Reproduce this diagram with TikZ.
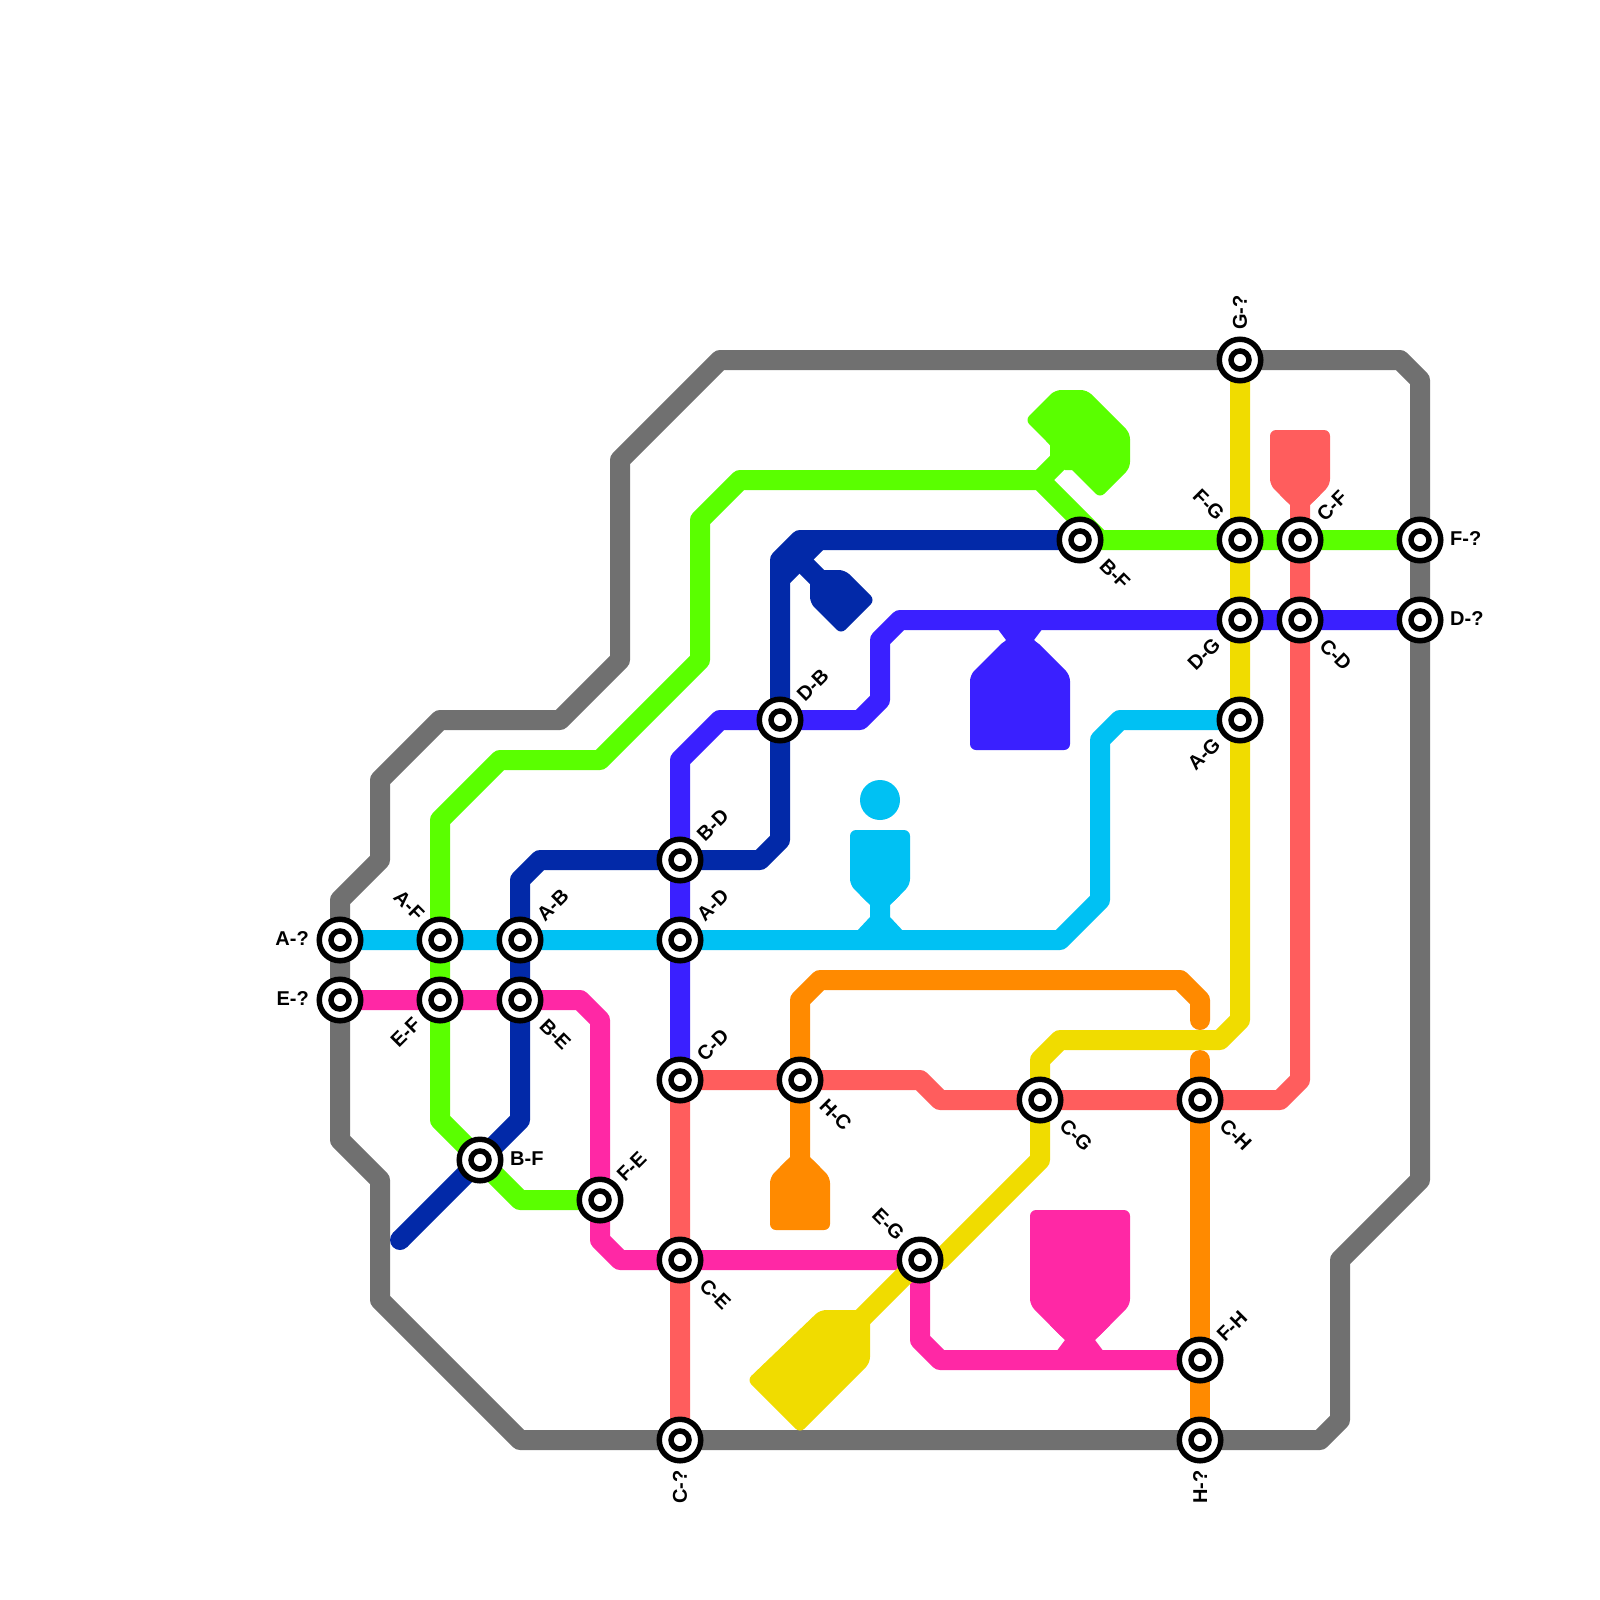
\documentclass[tikz,border=0pt]{standalone}
\usepackage{fontspec}
\setmainfont{Liberation Sans}
\usetikzlibrary{calc}
\pgfdeclarelayer{lines}
\pgfsetlayers{lines,main}
\definecolor{cGray}{HTML}{707070}
\definecolor{cCyan}{HTML}{00C1F3}
\definecolor{cPink}{HTML}{FF28A5}
\definecolor{cGreen}{HTML}{5AFF00}
\definecolor{cNavy}{HTML}{0229A8}
\definecolor{cViolet}{HTML}{3A20FF}
\definecolor{cOrange}{HTML}{FF8A00}
\definecolor{cRed}{HTML}{FF5D5D}
\definecolor{cYellow}{HTML}{F0DC00}
\tikzset{
  station/.style={circle,draw=black,line width=5.5pt,fill=white,inner sep=0pt,minimum size=41.5pt,
    path picture={\draw[black,line width=5.5pt] (path picture bounding box.center) circle (9pt);}},
  lbl/.style={font=\bfseries\fontsize{20}{20}\selectfont,inner sep=0pt,text=black},
  lblNE/.style={lbl,rotate=45,anchor=west},
  lblSE/.style={lbl,rotate=-45,anchor=west},
  lblNW/.style={lbl,rotate=-45,anchor=east},
  lblSW/.style={lbl,rotate=45,anchor=east},
  lblL/.style={lbl,anchor=east},
  lblR/.style={lbl,anchor=west},
  lblT/.style={lbl,rotate=90,anchor=west},
  lblB/.style={lbl,rotate=90,anchor=east},
  route/.style={draw=#1,line width=20pt,line join=round},
  blob/.style={fill=#1,rounded corners=6pt},
  flare/.style={fill=#1},
}
\begin{document}
\begin{tikzpicture}[x=1pt,y=-1pt]
\useasboundingbox (0,0) rectangle (1600,1600);
% stations
\node[station] (sA) at (340,940) {};
\node[station] (sE) at (340,1000) {};
\node[station] (sAF) at (440,940) {};
\node[station] (sEF) at (440,1000) {};
\node[station] (sAB) at (520,940) {};
\node[station] (sBE) at (520,1000) {};
\node[station] (sBFa) at (480,1160) {};
\node[station] (sFE) at (600,1200) {};
\node[station] (sBD) at (680,860) {};
\node[station] (sAD) at (680,940) {};
\node[station] (sCDa) at (680,1080) {};
\node[station] (sCE) at (680,1260) {};
\node[station] (sC) at (680,1440) {};
\node[station] (sDB) at (780,720) {};
\node[station] (sHC) at (800,1080) {};
\node[station] (sCG) at (1040,1100) {};
\node[station] (sCH) at (1200,1100) {};
\node[station] (sEG) at (920,1260) {};
\node[station] (sFH) at (1200,1360) {};
\node[station] (sH) at (1200,1440) {};
\node[station] (sBFb) at (1080,540) {};
\node[station] (sFG) at (1240,540) {};
\node[station] (sCF) at (1300,540) {};
\node[station] (sF) at (1420,540) {};
\node[station] (sDG) at (1240,620) {};
\node[station] (sCDb) at (1300,620) {};
\node[station] (sD) at (1420,620) {};
\node[station] (sAG) at (1240,720) {};
\node[station] (sG) at (1240,360) {};
% labels
\node[lblL] (tA) at ($(sA)+(-31,-1)$) {A-?};
\node[lblL] (tE) at ($(sE)+(-31,-1)$) {E-?};
\node[lblNW] (tAF) at ($(sAF)+(-19,-23)$) {A-F};
\node[lblSW] (tEF) at ($(sEF)+(-23,21)$) {E-F};
\node[lblNE] (tAB) at ($(sAB)+(20,-22)$) {A-B};
\node[lblSE] (tBE) at ($(sBE)+(23,22)$) {B-E};
\node[lblR] (tBFa) at ($(sBFa)+(30,-1)$) {B-F};
\node[lblNE] (tFE) at ($(sFE)+(20,-22)$) {F-E};
\node[lblNE] (tBD) at ($(sBD)+(20,-22)$) {B-D};
\node[lblNE] (tAD) at ($(sAD)+(20,-22)$) {A-D};
\node[lblNE] (tCDa) at ($(sCDa)+(20,-22)$) {C-D};
\node[lblSE] (tCE) at ($(sCE)+(23,22)$) {C-E};
\node[lblB] (tC) at ($(sC)+(0,30)$) {C-?};
\node[lblNE] (tDB) at ($(sDB)+(20,-22)$) {D-B};
\node[lblSE] (tHC) at ($(sHC)+(23,22)$) {H-C};
\node[lblSE] (tCG) at ($(sCG)+(23,22)$) {C-G};
\node[lblSE] (tCH) at ($(sCH)+(23,22)$) {C-H};
\node[lblNW] (tEG) at ($(sEG)+(-19,-23)$) {E-G};
\node[lblNE] (tFH) at ($(sFH)+(20,-22)$) {F-H};
\node[lblB] (tH) at ($(sH)+(0,30)$) {H-?};
\node[lblSE] (tBFb) at ($(sBFb)+(23,22)$) {B-F};
\node[lblNW] (tFG) at ($(sFG)+(-19,-23)$) {F-G};
\node[lblNE] (tCF) at ($(sCF)+(20,-22)$) {C-F};
\node[lblR] (tF) at ($(sF)+(30,-1)$) {F-?};
\node[lblSW] (tDG) at ($(sDG)+(-23,21)$) {D-G};
\node[lblSE] (tCDb) at ($(sCDb)+(23,22)$) {C-D};
\node[lblR] (tD) at ($(sD)+(30,-1)$) {D-?};
\node[lblSW] (tAG) at ($(sAG)+(-23,21)$) {A-G};
\node[lblT] (tG) at ($(sG)+(0,-30)$) {G-?};
% free ends
\coordinate (navyEnd) at (400,1240);
\coordinate (orangeA) at (1200,1060);
\coordinate (orangeB) at (1200,1020);
\coordinate (orangeC) at (800,1180);
\coordinate (redEnd) at (1300,480);
\coordinate (yellowEnd) at (840,1340);
\coordinate (greenNeck) at (1075,445);
\coordinate (greenJoint) at (1040,480);
\coordinate (navyJoint) at (790,550);
\coordinate (navyNeck) at (825,585);
\begin{pgfonlayer}{lines}
% gray ring
\draw[route=cGray] (sG.center) -- (1400,360) -- (1420,380) -- (sF.center) -- (sD.center) -- (1420,1180) -- (1340,1260) -- (1340,1420) -- (1320,1440) -- (sH.center) -- (sC.center) -- (520,1440) -- (380,1300) -- (380,1180) -- (340,1140) -- (sE.center) -- (sA.center) -- (340,900) -- (380,860) -- (380,780) -- (440,720) -- (560,720) -- (620,660) -- (620,460) -- (720,360) -- cycle;
% green
\draw[route=cGreen] (sF.center) -- (sCF.center) -- (sFG.center) -- (sBFb.center) -- (1100,540) -- (greenJoint) -- (740,480) -- (700,520) -- (700,660) -- (600,760) -- (500,760) -- (440,820) -- (sAF.center) -- (sEF.center) -- (440,1120) -- (sBFa.center) -- (520,1200) -- (sFE.center);
\draw[route=cGreen] (greenJoint) -- (greenNeck);
\fill[blob=cGreen] (1025,420) -- (1055,390) -- (1087,390) -- (1130,433) -- (1130,468) -- (1100,498) -- (1060,458) -- (1050,445) -- cycle;
\fill[flare=cGreen] (1050,445) -- (1080,440) -- (1075,470) -- (1065,470) -- (1050,460) -- cycle;
% navy
\draw[route=cNavy] (sBFb.center) -- (800,540) -- (780,560) -- (sDB.center) -- (780,840) -- (760,860) -- (sBD.center) -- (540,860) -- (520,880) -- (sAB.center) -- (sBE.center) -- (520,1120) -- (sBFa.center) -- (navyEnd);
\fill[cNavy] (navyEnd) circle (10pt);
\draw[route=cNavy] (navyJoint) -- (navyNeck);
\fill[flare=cNavy] (790,583) -- (823,550) -- (790,545) -- cycle;
\fill[blob=cNavy] (810,570) -- (845,570) -- (875,600) -- (841,634) -- (810,603) -- cycle;
% violet
\draw[route=cViolet] (sD.center) -- (sCDb.center) -- (sDG.center) -- (900,620) -- (880,640) -- (880,700) -- (860,720) -- (sDB.center) -- (720,720) -- (680,760) -- (sBD.center) -- (sAD.center) -- (sCDa.center);
\fill[blob=cViolet] (970,750) -- (1070,750) -- (1070,675) -- (1035,640) -- (1005,640) -- (970,675) -- cycle;
\fill[flare=cViolet] (997,628) -- (1043,628) -- (1034,640) -- (1050,656) -- (990,656) -- (1006,640) -- cycle;
% cyan
\draw[route=cCyan] (sA.center) -- (sAF.center) -- (sAB.center) -- (sAD.center) -- (1060,940) -- (1100,900) -- (1100,740) -- (1120,720) -- (sAG.center);
\fill[blob=cCyan] (850,830) -- (910,830) -- (910,885) -- (890,905) -- (870,905) -- (850,885) -- cycle;
\fill[flare=cCyan] (856,932) -- (904,932) -- (890,917) -- (890,905) -- (900,895) -- (860,895) -- (870,905) -- (870,917) -- cycle;
\fill[cCyan] (880,800) circle (20pt);
% red
\draw[route=cRed] (sC.center) -- (sCE.center) -- (sCDa.center) -- (sHC.center) -- (920,1080) -- (940,1100) -- (sCG.center) -- (sCH.center) -- (1280,1100) -- (1300,1080) -- (sCDb.center) -- (sCF.center) -- (redEnd);
\fill[blob=cRed] (1270,430) -- (1330,430) -- (1330,485) -- (1310,505) -- (1290,505) -- (1270,485) -- cycle;
\fill[flare=cRed] (1290,505) -- (1310,505) -- (1320,495) -- (1280,495) -- cycle;
% orange
\draw[route=cOrange,line cap=round] (sH.center) -- (sFH.center) -- (sCH.center) -- (orangeA);
\draw[route=cOrange,line cap=round] (orangeB) -- (1200,1000) -- (1180,980) -- (820,980) -- (800,1000) -- (sHC.center) -- (orangeC);
\fill[blob=cOrange] (770,1230) -- (830,1230) -- (830,1177) -- (810,1157) -- (790,1157) -- (770,1177) -- cycle;
\fill[flare=cOrange] (790,1157) -- (810,1157) -- (820,1167) -- (780,1167) -- cycle;
% pink
\draw[route=cPink] (sE.center) -- (sEF.center) -- (sBE.center) -- (580,1000) -- (600,1020) -- (sFE.center) -- (600,1240) -- (620,1260) -- (sCE.center) -- (sEG.center) -- (920,1340) -- (940,1360) -- (sFH.center);
\fill[blob=cPink] (1030,1210) -- (1130,1210) -- (1130,1305) -- (1095,1340) -- (1065,1340) -- (1030,1305) -- cycle;
\fill[flare=cPink] (1056,1352) -- (1104,1352) -- (1095,1340) -- (1110,1325) -- (1050,1325) -- (1065,1340) -- cycle;
% yellow
\draw[route=cYellow] (sG.center) -- (sFG.center) -- (sDG.center) -- (sAG.center) -- (1240,1020) -- (1220,1040) -- (1060,1040) -- (1040,1060) -- (sCG.center) -- (1040,1160) -- (940,1260) -- (sEG.center) -- (yellowEnd);
\fill[blob=cYellow] (820,1310) -- (870,1310) -- (870,1363) -- (800,1433) -- (747,1380) -- cycle;
\end{pgfonlayer}
\end{tikzpicture}
\end{document}
